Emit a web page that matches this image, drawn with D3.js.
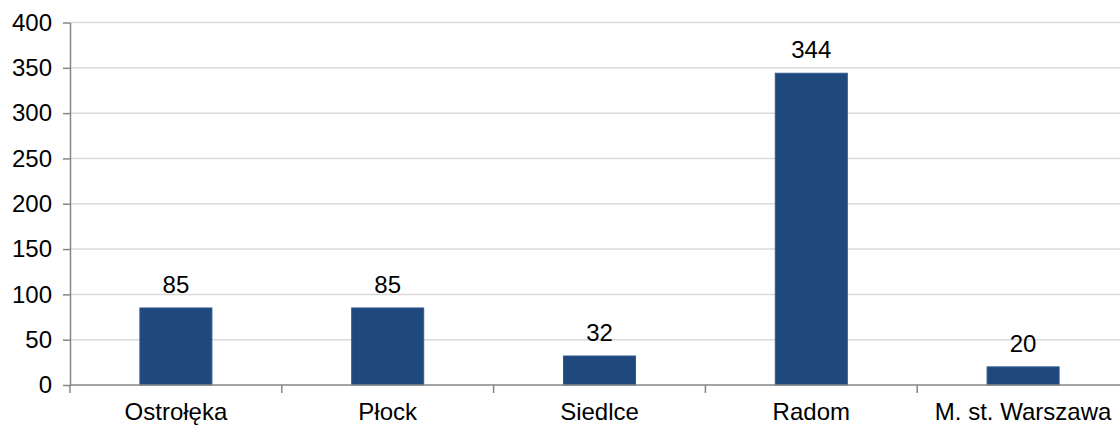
<!doctype html>
<html lang="pl">
<head>
<meta charset="utf-8">
<script src="https://cdn.jsdelivr.net/npm/d3@7"></script>
<style>
  body { margin: 0; background: #fff; }
  svg { font-family: "Liberation Sans", Arial, sans-serif; }
  .grid line { stroke: #d9d9d9; stroke-width: 1.5; }
  .axis path, .axis line { stroke: #868686; stroke-width: 1.5; }
  .axis text { fill: #000; font-size: 24px; }
  .bar { fill: #1f497d; stroke: #2d5a8e; stroke-width: 1; }
  .value { fill: #000; font-size: 24px; text-anchor: middle; }
</style>
</head>
<body>
<div id="chart"></div>
<script>
  // Chart data
  var categories = ["Ostrołęka", "Płock", "Siedlce", "Radom", "M. st. Warszawa"];
  var values = [85, 85, 32, 344, 20];
  var yTicks = [0, 50, 100, 150, 200, 250, 300, 350, 400];

  var width = 1120, height = 426;
  var plotLeft = 70, plotRight = 1129, plotTop = 22.5, plotBottom = 385;

  var svg = d3.select("#chart").append("svg")
    .attr("width", width)
    .attr("height", height);

  var x = d3.scaleBand()
    .domain(categories)
    .range([plotLeft, plotRight])
    .paddingInner(0.66)
    .paddingOuter(0.33);

  var y = d3.scaleLinear()
    .domain([0, 400])
    .range([plotBottom, plotTop]);

  // Gridlines
  svg.append("g")
    .attr("class", "grid")
    .selectAll("line")
    .data(yTicks.filter(function(d) { return d > 0; }))
    .enter()
    .append("line")
    .attr("x1", plotLeft)
    .attr("x2", width)
    .attr("y1", function(d) { return y(d); })
    .attr("y2", function(d) { return y(d); });

  // Bars
  svg.selectAll(".bar")
    .data(values)
    .enter()
    .append("rect")
    .attr("class", "bar")
    .attr("x", function(d, i) { return x(categories[i]); })
    .attr("width", x.bandwidth())
    .attr("y", function(d) { return y(d); })
    .attr("height", function(d) { return plotBottom - y(d); });

  // Value labels
  svg.selectAll(".value")
    .data(values)
    .enter()
    .append("text")
    .attr("class", "value")
    .attr("x", function(d, i) { return x(categories[i]) + x.bandwidth() / 2; })
    .attr("y", function(d) { return y(d) - 15; })
    .text(function(d) { return d; });

  // Y axis
  svg.append("g")
    .attr("class", "axis")
    .attr("transform", "translate(" + plotLeft + ",0)")
    .call(d3.axisLeft(y).tickValues(yTicks).tickSize(7).tickPadding(11).tickSizeOuter(0));

  // X axis with ticks at category boundaries
  var step = x.step();
  var xAxis = svg.append("g")
    .attr("class", "axis")
    .attr("transform", "translate(0," + plotBottom + ")");
  xAxis.append("line")
    .attr("x1", plotLeft)
    .attr("x2", width)
    .attr("y1", 0)
    .attr("y2", 0);
  xAxis.selectAll(".tick")
    .data(d3.range(categories.length))
    .enter()
    .append("line")
    .attr("x1", function(i) { return plotLeft + i * step; })
    .attr("x2", function(i) { return plotLeft + i * step; })
    .attr("y1", 0)
    .attr("y2", 8);
  xAxis.selectAll("text")
    .data(categories)
    .enter()
    .append("text")
    .attr("x", function(d) { return x(d) + x.bandwidth() / 2; })
    .attr("y", 35)
    .attr("text-anchor", "middle")
    .text(function(d) { return d; });
</script>
</body>
</html>
